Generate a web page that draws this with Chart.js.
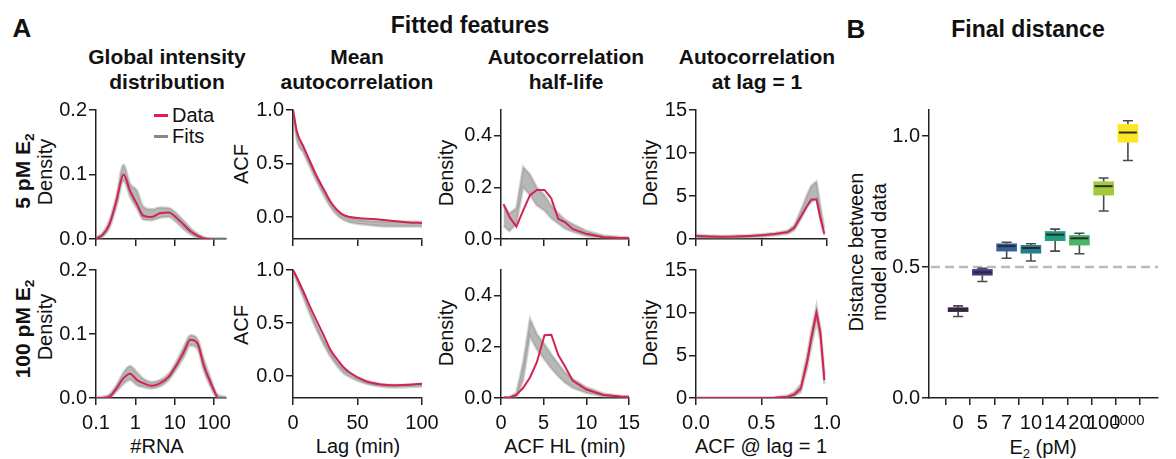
<!DOCTYPE html>
<html>
<head>
<meta charset="utf-8">
<script src="https://cdn.jsdelivr.net/npm/chart.js@4.4.1/dist/chart.umd.min.js"></script>
<style>
body { margin: 0; background: #fff; }
#fig { position: relative; width: 1176px; height: 459px; overflow: hidden; font-family: "Liberation Sans", Arial, sans-serif; color: #111; }
#fig canvas { position: absolute; }
.t { position: absolute; transform: translate(-50%, -50%); white-space: nowrap; text-align: center; line-height: 1; font-size: 20px; }
.l { position: absolute; transform: translate(0, -50%); white-space: nowrap; line-height: 1; font-size: 20px; }
.b { font-weight: bold; }
.r { transform: translate(-50%, -50%) rotate(-90deg); }
.h { font-size: 21px; line-height: 25px; }
sub { font-size: 65%; vertical-align: baseline; position: relative; top: 0.3em; }
.dash { position: absolute; width: 14px; height: 3px; }
</style>
</head>
<body>
<div id="fig">
  <div class="t b" style="left:22px;top:28px;font-size:26px">A</div>
  <div class="t b" style="left:470px;top:25px;font-size:23px">Fitted features</div>
  <div class="t b" style="left:856px;top:29px;font-size:26px">B</div>
  <div class="t b" style="left:1028px;top:29px;font-size:23px">Final distance</div>

  <div class="t b h" style="left:167px;top:69px">Global intensity<br>distribution</div>
  <div class="t b h" style="left:357px;top:69px">Mean<br>autocorrelation</div>
  <div class="t b h" style="left:566px;top:69px">Autocorrelation<br>half-life</div>
  <div class="t b h" style="left:757px;top:69px">Autocorrelation<br>at lag = 1</div>

  <div class="t r b" style="left:22px;top:171px;font-size:21px">5 pM E<sub>2</sub></div>
  <div class="t r" style="left:45px;top:172px">Density</div>
  <div class="t r b" style="left:22px;top:329px;font-size:21px">100 pM E<sub>2</sub></div>
  <div class="t r" style="left:45px;top:327px">Density</div>
  <div class="t r" style="left:241px;top:164px">ACF</div>
  <div class="t r" style="left:241px;top:325px">ACF</div>
  <div class="t r" style="left:446px;top:173px">Density</div>
  <div class="t r" style="left:446px;top:333px">Density</div>
  <div class="t r" style="left:650px;top:173px">Density</div>
  <div class="t r" style="left:650px;top:333px">Density</div>

  <div class="t" style="left:157px;top:446px">#RNA</div>
  <div class="t" style="left:358px;top:446px">Lag (min)</div>
  <div class="t" style="left:565px;top:446px">ACF HL (min)</div>
  <div class="t" style="left:761px;top:446px">ACF @ lag = 1</div>
  <div class="t" style="left:1043px;top:447px">E<sub>2</sub> (pM)</div>
  <div class="t r" style="left:868px;top:252px;line-height:23px">Distance between<br>model and data</div>

  <div class="dash" style="left:154px;top:114px;background:#e0204f"></div>
  <div class="l" style="left:172px;top:115px">Data</div>
  <div class="dash" style="left:154px;top:135px;background:#888"></div>
  <div class="l" style="left:172px;top:136px">Fits</div>
</div>
<script>
// global intensity distribution (#RNA, log axis)
const rnaX = [0.1, 0.15, 0.22, 0.33, 0.5, 0.73, 1.1, 1.6, 2.6, 4.2, 7, 11, 17, 25, 38, 55, 80, 120, 200];
const rnaData5 = [0.001, 0.007, 0.023, 0.059, 0.100, 0.075, 0.054, 0.036, 0.034, 0.040, 0.041, 0.033, 0.022, 0.012, 0.005, 0.001, 0, null, null];
const rnaFitHi5 = [0.002, 0.010, 0.029, 0.067, 0.115, 0.086, 0.075, 0.050, 0.046, 0.049, 0.048, 0.040, 0.028, 0.017, 0.008, 0.003, 0.001, 0.001, 0.001];
const rnaFitLo5 = [0, 0.004, 0.017, 0.050, 0.090, 0.066, 0.047, 0.030, 0.029, 0.033, 0.034, 0.026, 0.015, 0.007, 0.002, 0, 0, 0, 0];
const rnaData100 = [0, 0, 0.002, 0.015, 0.031, 0.038, 0.028, 0.023, 0.019, 0.023, 0.033, 0.051, 0.072, 0.091, 0.085, 0.050, 0.025, 0.001, null];
const rnaFitHi100 = [0.001, 0.002, 0.006, 0.020, 0.040, 0.050, 0.040, 0.030, 0.025, 0.028, 0.038, 0.057, 0.080, 0.098, 0.092, 0.060, 0.032, 0.006, 0.002];
const rnaFitLo100 = [0, 0, 0, 0.010, 0.022, 0.028, 0.020, 0.017, 0.015, 0.018, 0.028, 0.045, 0.064, 0.082, 0.076, 0.042, 0.018, 0, 0];

// mean autocorrelation
const lagX = [0, 3, 8, 13, 18, 24, 29, 34, 39, 44, 55, 68, 80, 90, 100];
const acfData5 = [1.0, 0.80, 0.66, 0.525, 0.39, 0.255, 0.145, 0.068, 0.02, 0.0, -0.013, -0.025, -0.04, -0.05, -0.056];
const acfFitHi5 = [1.0, 0.79, 0.65, 0.52, 0.39, 0.25, 0.14, 0.06, 0.015, -0.01, -0.03, -0.04, -0.042, -0.043, -0.043];
const acfFitLo5 = [0.99, 0.72, 0.60, 0.47, 0.34, 0.20, 0.095, 0.02, -0.025, -0.05, -0.07, -0.085, -0.088, -0.088, -0.088];
const acfData100 = [1.0, 0.93, 0.80, 0.66, 0.53, 0.38, 0.25, 0.163, 0.087, 0.035, -0.04, -0.077, -0.084, -0.08, -0.071];
const acfFitHi100 = [1.0, 0.93, 0.78, 0.635, 0.495, 0.345, 0.235, 0.14, 0.07, 0.028, -0.035, -0.072, -0.082, -0.078, -0.072];
const acfFitLo100 = [0.99, 0.89, 0.74, 0.585, 0.445, 0.295, 0.185, 0.10, 0.03, -0.008, -0.065, -0.098, -0.106, -0.102, -0.096];

// autocorrelation half-life
const hlX = [0.3, 1, 1.8, 2.6, 3.4, 4.2, 5.1, 5.9, 6.7, 7.5, 8.4, 10, 12, 14, 15];
const hlData5 = [0.135, 0.085, 0.048, 0.111, 0.17, 0.19, 0.19, 0.157, 0.078, 0.065, 0.039, 0.02, 0.007, 0.004, 0.004];
const hlFitHi5 = [0.13, 0.10, 0.12, 0.28, 0.25, 0.20, 0.17, 0.13, 0.10, 0.075, 0.058, 0.032, 0.014, 0.008, 0.006];
const hlFitLo5 = [0.05, 0.03, 0.06, 0.20, 0.17, 0.13, 0.11, 0.08, 0.06, 0.04, 0.028, 0.012, 0.004, 0.002, 0.002];
const hlData100 = [0.002, 0.002, 0.012, 0.04, 0.08, 0.14, 0.245, 0.247, 0.169, 0.123, 0.068, 0.033, 0.012, 0.006, 0.005];
const hlFitHi100 = [0.004, 0.004, 0.02, 0.14, 0.31, 0.25, 0.21, 0.17, 0.135, 0.10, 0.075, 0.042, 0.018, 0.008, 0.006];
const hlFitLo100 = [0, 0, 0.004, 0.07, 0.24, 0.19, 0.15, 0.115, 0.085, 0.06, 0.04, 0.02, 0.006, 0.002, 0.002];

// autocorrelation at lag = 1
const lag1X = [0, 0.1, 0.2, 0.3, 0.4, 0.5, 0.6, 0.7, 0.75, 0.8, 0.85, 0.88, 0.92, 0.95, 0.98];
const lag1Data5 = [0.35, 0.3, 0.27, 0.28, 0.35, 0.45, 0.58, 0.8, 1.3, 2.6, 3.9, 4.6, 4.6, 2.4, 0.6];
const lag1FitHi5 = [0.5, 0.4, 0.35, 0.4, 0.45, 0.55, 0.7, 1.0, 1.6, 3.3, 5.2, 6.2, 6.7, 3.8, 1.2];
const lag1FitLo5 = [0.15, 0.1, 0.1, 0.1, 0.15, 0.25, 0.4, 0.6, 1.0, 2.3, 3.8, 4.3, 4.7, 2.2, 0.4];
const lag1Data100 = [0, 0, 0, 0, 0, 0, 0.02, 0.15, 0.4, 1.1, 4.4, 7.0, 10.0, 7.6, 2.1];
const lag1FitHi100 = [0.05, 0.05, 0.05, 0.05, 0.05, 0.05, 0.08, 0.3, 0.7, 1.6, 5.2, 7.8, 10.8, 8.2, 2.8];
const lag1FitLo100 = [0, 0, 0, 0, 0, 0, 0, 0.05, 0.2, 0.7, 3.6, 6.0, 9.0, 6.6, 1.6];

// final distance boxes
const e2Labels = ["0", "5", "7", "10", "14", "20", "100", "1000"];
const boxQ1 = [0.330, 0.469, 0.561, 0.553, 0.601, 0.584, 0.775, 0.977];
const boxQ3 = [0.345, 0.491, 0.589, 0.583, 0.636, 0.621, 0.826, 1.045];
const boxMed = [0.337, 0.480, 0.580, 0.573, 0.624, 0.610, 0.809, 1.014];
const whiskLo = [0.311, 0.445, 0.534, 0.523, 0.561, 0.551, 0.714, 0.907];
const whiskHi = [0.352, 0.495, 0.595, 0.589, 0.645, 0.629, 0.840, 1.059];
const boxColors = ["#3f1f55", "#45388a", "#33609a", "#277d8e", "#1f9e83", "#4ab466", "#a2c83c", "#fde725"];
const refLine = 0.5;

Chart.defaults.font.family = '"Liberation Sans", Arial, sans-serif';
Chart.defaults.font.size = 20;
Chart.defaults.color = "#111";

const fig = document.getElementById("fig");
const axisColor = "#222";
const dataColor = "#d3234f";
const padL = 62, padT = 10, padR = 30;

const pts = (xs, ys) => xs.map((x, i) => ({ x, y: ys[i] }));

const makeCanvas = (l, t, w, h) => {
    const c = document.createElement("canvas");
    c.width = w;
    c.height = h;
    c.style.left = l + "px";
    c.style.top = t + "px";
    fig.appendChild(c);
    return c;
};

const axis = (cfg) => ({
    type: cfg.type || "linear",
    min: cfg.min,
    max: cfg.max,
    grid: { display: true, drawOnChartArea: false, drawTicks: true, tickLength: 7, color: axisColor, lineWidth: 1.5 },
    border: { display: true, color: axisColor, width: 1.5 },
    ticks: {
        color: "#111",
        padding: cfg.pad,
        maxRotation: 0,
        minRotation: 0,
        autoSkip: false,
        font: cfg.font || { size: 20 },
        callback: cfg.fmt
    },
    afterBuildTicks: (s) => { s.ticks = cfg.ticks.map(v => ({ value: v })); },
    afterFit: cfg.fit
});

const makePanel = (p) => {
    const [l, t, r, b] = p.rect;
    const xh = p.showX ? 52 : 12;
    const canvas = makeCanvas(l - padL, t - padT, padL + (r - l) + padR, padT + (b - t) + xh);
    const smooth = p.smooth ? { cubicInterpolationMode: "monotone" } : { tension: 0 };
    new Chart(canvas, {
        type: "line",
        data: {
            datasets: [
                Object.assign({ label: "Data", data: pts(p.xs, p.data), borderColor: dataColor, borderWidth: 2, pointRadius: 0, fill: false, spanGaps: false }, smooth),
                Object.assign({ label: "FitsHi", data: pts(p.xs, p.hi), borderColor: "rgba(130,130,130,0.35)", borderWidth: 2.5, backgroundColor: "rgba(135,135,135,0.6)", pointRadius: 0, fill: "+1" }, smooth),
                Object.assign({ label: "FitsLo", data: pts(p.xs, p.lo), borderColor: "rgba(130,130,130,0.35)", borderWidth: 2.5, pointRadius: 0, fill: false }, smooth)
            ]
        },
        options: {
            responsive: false,
            animation: false,
            devicePixelRatio: 1,
            layout: { padding: { top: padT, right: padR, left: 0, bottom: 0 } },
            plugins: { legend: { display: false }, tooltip: { enabled: false } },
            scales: {
                x: axis({
                    type: p.xType, min: p.xMin, max: p.xMax, ticks: p.xTicks, pad: 6,
                    fmt: (v) => p.showX ? p.xFmt(v) : "",
                    fit: (s) => { s.height = xh; s.paddingLeft = 0; s.paddingRight = 0; }
                }),
                y: axis({
                    min: p.yMin, max: p.yMax, ticks: p.yTicks, pad: 2,
                    fmt: p.yFmt,
                    fit: (s) => { s.width = padL; s.paddingTop = 0; s.paddingBottom = 0; }
                })
            }
        }
    });
};

const f1 = (v) => Number(v).toFixed(1);
const f0 = (v) => String(Math.round(v));
const rnaFmt = (v) => (v < 1 ? "0.1" : String(Math.round(v)));

const rows = [
    { top: 110, bottom: 239, showX: false, rna: rnaData5, rnaHi: rnaFitHi5, rnaLo: rnaFitLo5, acf: acfData5, acfHi: acfFitHi5, acfLo: acfFitLo5, hl: hlData5, hlHi: hlFitHi5, hlLo: hlFitLo5, l1: lag1Data5, l1Hi: lag1FitHi5, l1Lo: lag1FitLo5 },
    { top: 270, bottom: 398, showX: true, rna: rnaData100, rnaHi: rnaFitHi100, rnaLo: rnaFitLo100, acf: acfData100, acfHi: acfFitHi100, acfLo: acfFitLo100, hl: hlData100, hlHi: hlFitHi100, hlLo: hlFitLo100, l1: lag1Data100, l1Hi: lag1FitHi100, l1Lo: lag1FitLo100 }
];

rows.forEach(row => {
    makePanel({
        rect: [96, row.top, 226, row.bottom], showX: row.showX, smooth: true,
        xType: "logarithmic", xMin: 0.1, xMax: 200, xTicks: [0.1, 1, 10, 100], xFmt: rnaFmt,
        yMin: 0, yMax: 0.2, yTicks: [0, 0.1, 0.2], yFmt: f1,
        xs: rnaX, data: row.rna, hi: row.rnaHi, lo: row.rnaLo
    });
    makePanel({
        rect: [292.5, row.top, 422, row.bottom], showX: row.showX, smooth: true,
        xMin: 0, xMax: 100, xTicks: [0, 50, 100], xFmt: f0,
        yMin: -0.205, yMax: 1.0, yTicks: [0, 0.5, 1.0], yFmt: f1,
        xs: lagX, data: row.acf, hi: row.acfHi, lo: row.acfLo
    });
    makePanel({
        rect: [501, row.top, 629.5, row.bottom], showX: row.showX, smooth: false,
        xMin: 0, xMax: 15, xTicks: [0, 5, 10, 15], xFmt: f0,
        yMin: 0, yMax: 0.5, yTicks: [0, 0.2, 0.4], yFmt: f1,
        xs: hlX, data: row.hl, hi: row.hlHi, lo: row.hlLo
    });
    makePanel({
        rect: [696, row.top, 827, row.bottom], showX: row.showX, smooth: false,
        xMin: 0, xMax: 1, xTicks: [0, 0.5, 1], xFmt: f1,
        yMin: 0, yMax: 15, yTicks: [0, 5, 10, 15], yFmt: f0,
        xs: lag1X, data: row.l1, hi: row.l1Hi, lo: row.l1Lo
    });
});

// box plot extras: reference line, whiskers, medians
const boxExtras = {
    id: "boxExtras",
    beforeDatasetsDraw(chart) {
        const { ctx, chartArea, scales: { x, y } } = chart;
        const py = y.getPixelForValue(refLine);
        ctx.save();
        ctx.setLineDash([9, 5]);
        ctx.strokeStyle = "#bababa";
        ctx.lineWidth = 2.5;
        ctx.beginPath();
        ctx.moveTo(chartArea.left + 2, py);
        ctx.lineTo(chartArea.right, py);
        ctx.stroke();
        ctx.setLineDash([]);
        ctx.strokeStyle = "#4a4a4a";
        ctx.lineWidth = 1.6;
        e2Labels.forEach((_, i) => {
            const px = x.getPixelForValue(i);
            const yHi = y.getPixelForValue(whiskHi[i]);
            const yLo = y.getPixelForValue(whiskLo[i]);
            ctx.beginPath();
            ctx.moveTo(px, y.getPixelForValue(boxQ3[i]));
            ctx.lineTo(px, yHi);
            ctx.moveTo(px - 5, yHi);
            ctx.lineTo(px + 5, yHi);
            ctx.moveTo(px, y.getPixelForValue(boxQ1[i]));
            ctx.lineTo(px, yLo);
            ctx.moveTo(px - 5, yLo);
            ctx.lineTo(px + 5, yLo);
            ctx.stroke();
        });
        ctx.restore();
    },
    afterDatasetsDraw(chart) {
        const { ctx, scales: { x, y } } = chart;
        ctx.save();
        ctx.strokeStyle = "#2b2b2b";
        ctx.lineWidth = 2;
        e2Labels.forEach((_, i) => {
            const px = x.getPixelForValue(i);
            const pm = y.getPixelForValue(boxMed[i]);
            ctx.beginPath();
            ctx.moveTo(px - 9, pm);
            ctx.lineTo(px + 9, pm);
            ctx.stroke();
        });
        ctx.restore();
    }
};

const bL = 929, bT = 110, bR = 1158, bB = 398;
const bCanvas = makeCanvas(bL - padL, bT - padT, padL + (bR - bL) + 16, padT + (bB - bT) + 52);
new Chart(bCanvas, {
    type: "bar",
    data: {
        datasets: [{
            label: "Final distance",
            data: e2Labels.map((_, i) => ({ x: i, y: [boxQ1[i], boxQ3[i]] })),
            backgroundColor: boxColors,
            borderWidth: 0,
            barThickness: 20
        }]
    },
    options: {
        responsive: false,
        animation: false,
        devicePixelRatio: 1,
        layout: { padding: { top: padT, right: 16, left: 0, bottom: 0 } },
        plugins: { legend: { display: false }, tooltip: { enabled: false } },
        scales: {
            x: axis({
                min: -0.61, max: 7.65, ticks: [0, 1, 2, 3, 4, 5, 6, 7], pad: 6,
                // the last label is smaller in the figure; its line height keeps it level with the rest
                font: (ctx) => (ctx.index === 7 ? { size: 15, lineHeight: "20px" } : { size: 20 }),
                fmt: (v) => e2Labels[Math.round(v)],
                fit: (s) => { s.height = 52; s.paddingLeft = 0; s.paddingRight = 0; }
            }),
            y: axis({
                min: 0, max: 1.1, ticks: [0, 0.5, 1.0], pad: 2, fmt: f1,
                fit: (s) => { s.width = padL; s.paddingTop = 0; s.paddingBottom = 0; }
            })
        }
    },
    plugins: [boxExtras]
});
</script>
</body>
</html>
